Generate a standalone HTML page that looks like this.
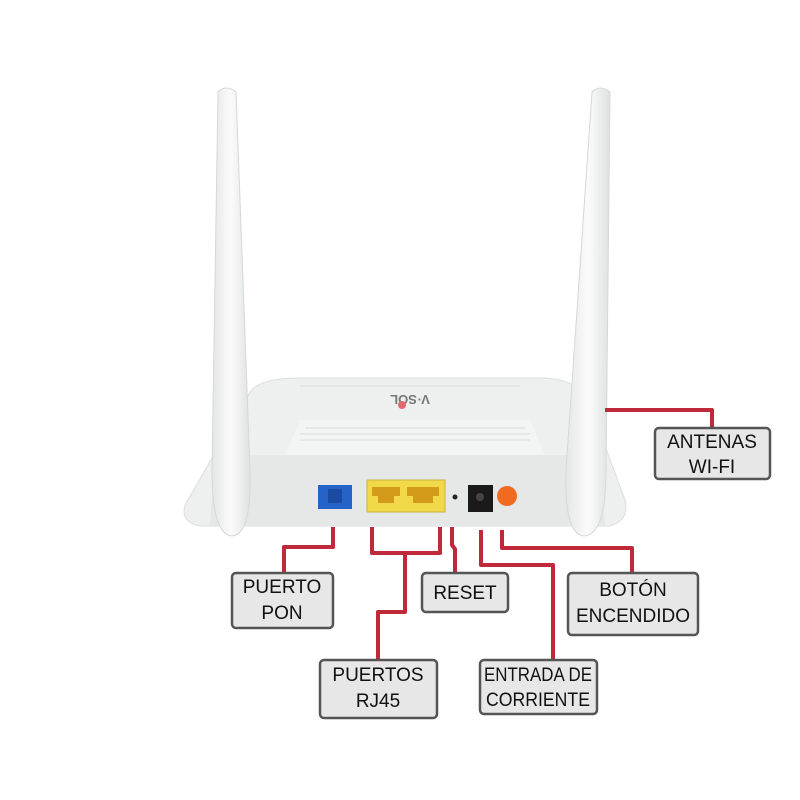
<!DOCTYPE html>
<html><head><meta charset="utf-8"><style>
body{margin:0;background:#fff}
svg{display:block}
text{font-family:"Liberation Sans",sans-serif;font-size:19px;fill:#111;text-anchor:middle}
</style></head><body>
<svg width="800" height="800" viewBox="0 0 800 800" xmlns="http://www.w3.org/2000/svg">
<defs>
<linearGradient id="ant" x1="0" x2="1"><stop offset="0" stop-color="#e4e6e6"/><stop offset=".5" stop-color="#fbfbfb"/><stop offset="1" stop-color="#dfe1e1"/></linearGradient>
</defs>
<path d="M250 392 Q260 378 300 378 L545 378 Q578 380 588 400 L625 500 Q630 520 610 526 L200 526 Q180 522 185 505 Z" fill="#eef0f0" stroke="#dcdede"/>
<path d="M215 455 L600 455 L605 525 L210 525 Z" fill="#e6e8e8"/>
<path d="M300 420 L530 420 L545 455 L285 455 Z" fill="#f3f4f4"/>
<g stroke="#d8dada" stroke-width="1">
<line x1="305" y1="428" x2="525" y2="428"/><line x1="300" y1="434" x2="530" y2="434"/><line x1="300" y1="440" x2="530" y2="440"/>
<line x1="300" y1="386" x2="520" y2="386"/>
</g>
<text x="410" y="405" style="font-size:13px;fill:#777;font-weight:bold" transform="rotate(180 410 400)">V·SOL</text>
<circle cx="402" cy="405" r="4" fill="#e06a70"/>
<rect x="318" y="485" width="34" height="24" fill="#2563c9"/>
<rect x="328" y="489" width="14" height="14" fill="#1b4aa0"/>
<rect x="367" y="480" width="78" height="32" fill="#f2d94a" stroke="#c9b23a"/>
<path d="M372 487 h28 v9 h-6 v7 h-16 v-7 h-6z" fill="#d49a1a"/>
<path d="M407 487 h32 v9 h-6 v7 h-20 v-7 h-6z" fill="#d49a1a"/>
<circle cx="455" cy="497" r="2.5" fill="#222"/>
<rect x="468" y="485" width="25" height="27" fill="#1a1a1a"/>
<circle cx="480" cy="497" r="4" fill="#444"/>
<circle cx="507" cy="496" r="10" fill="#f26a22"/>
<path d="M218 92 Q226 84 236 92 L250 470 Q252 535 232 536 Q212 535 212 470 Z" fill="url(#ant)" stroke="#d6d8d8"/>
<path d="M592 92 Q600 84 610 92 L606 470 Q606 535 584 536 Q564 535 566 470 Z" fill="url(#ant)" stroke="#d6d8d8"/>
<g fill="none" stroke="#c0293a" stroke-width="4" stroke-linejoin="round">
<path d="M333 527 V547 H284 V573"/>
<path d="M372 527 V553 H440 V527"/>
<path d="M405 553 V612 H378 V660"/>
<path d="M452 527 V545 L455 549 V573"/>
<path d="M481 530 V565 H553 V660"/>
<path d="M502 530 V548 H632 V573"/>
<path d="M605 410 H712 V428"/>
</g>
<g fill="#e7e7e7" stroke="#555" stroke-width="2.5">
<rect x="232" y="573" width="101" height="55" rx="4"/>
<rect x="422" y="573" width="86" height="39" rx="4"/>
<rect x="568" y="573" width="130" height="62" rx="4"/>
<rect x="320" y="660" width="117" height="58" rx="4"/>
<rect x="480" y="660" width="117" height="54" rx="4"/>
<rect x="655" y="428" width="115" height="51" rx="4"/>
</g>
<text x="282" y="593">PUERTO</text><text x="282" y="619">PON</text>
<text x="465" y="599">RESET</text>
<text x="633" y="596">BOTÓN</text><text x="633" y="622">ENCENDIDO</text>
<text x="378" y="681">PUERTOS</text><text x="378" y="707">RJ45</text>
<text x="538" y="681" textLength="108" lengthAdjust="spacingAndGlyphs">ENTRADA DE</text><text x="538" y="706" textLength="104" lengthAdjust="spacingAndGlyphs">CORRIENTE</text>
<text x="712" y="448">ANTENAS</text><text x="712" y="473">WI-FI</text>
</svg>
</body></html>
